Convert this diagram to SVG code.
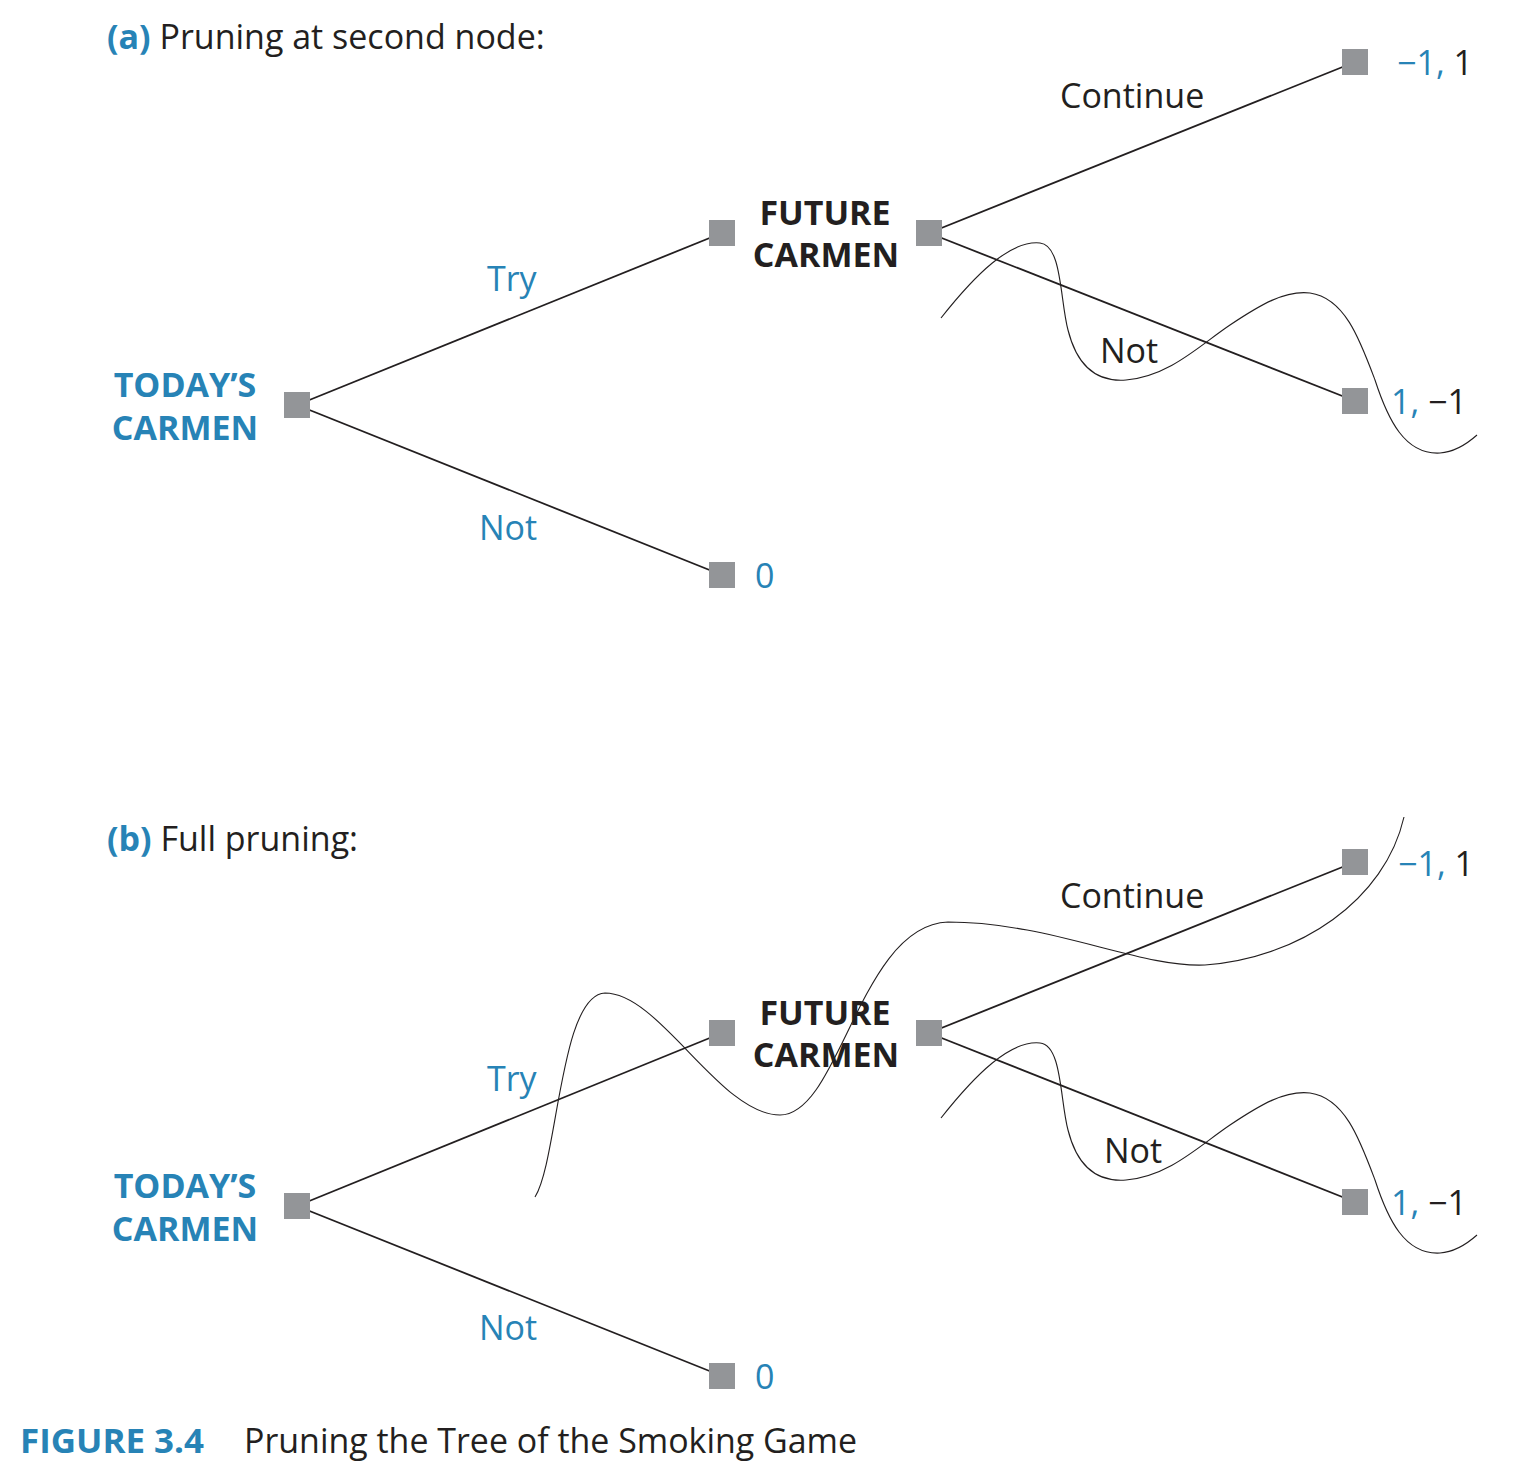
<svg xmlns="http://www.w3.org/2000/svg" width="1526" height="1470" viewBox="0 0 1526 1470">
<defs>
<style>
.t{font-family:"Open Sans","Liberation Sans",sans-serif;font-size:34px;fill:#231f20}
.b{font-weight:bold}
.blue{fill:#2783b6}
.nd{fill:#939598}
.edge{stroke:#231f20;stroke-width:1.8;fill:none}
.cut{stroke:#231f20;stroke-width:1.1;fill:none}
</style>
</defs>
<rect width="1526" height="1470" fill="#ffffff"/>

<!-- Part (a) -->
<text class="t" x="107" y="49"><tspan class="b blue">(a)</tspan> Pruning at second node:</text>
<g id="a-connectors">
<line class="edge" x1="297" y1="405" x2="722" y2="233"/>
<line class="edge" x1="297" y1="405" x2="722" y2="575"/>
<line class="edge" x1="929" y1="233" x2="1355" y2="62"/>
<line class="edge" x1="929" y1="233" x2="1355" y2="401"/>
<path class="cut" d="M941,318 C975,275 1010,240 1040,243 C1062,245 1060,300 1068,330 C1078,370 1100,382 1126,380 C1170,376 1200,345 1230,325 C1260,305 1285,290 1310,293 C1345,298 1360,340 1375,380 C1388,420 1405,455 1440,453 C1455,452 1468,443 1477,435"/>
<text class="t blue" x="487" y="291">Try</text>
<text class="t blue" x="479" y="540">Not</text>
<text class="t" x="1060" y="108">Continue</text>
<text class="t" x="1100" y="363">Not</text>
</g>
<g id="a-today">
<rect class="nd" x="284" y="392" width="26" height="26"/>
<text class="t b blue" x="185" y="397" text-anchor="middle">TODAY’S</text>
<text class="t b blue" x="185" y="440" text-anchor="middle">CARMEN</text>
</g>
<g id="a-future">
<rect class="nd" x="709" y="220" width="26" height="26"/>
<rect class="nd" x="916" y="220" width="26" height="26"/>
<text class="t b" x="825" y="225" text-anchor="middle">FUTURE</text>
<text class="t b" x="826" y="267" text-anchor="middle">CARMEN</text>
</g>
<g id="a-zero">
<rect class="nd" x="709" y="562" width="26" height="26"/>
<text class="t blue" x="755" y="588">0</text>
</g>
<g id="a-t1">
<rect class="nd" x="1342" y="49" width="26" height="26"/>
<text class="t" x="1397" y="75"><tspan class="blue">−1,</tspan> 1</text>
</g>
<g id="a-t2">
<rect class="nd" x="1342" y="388" width="26" height="26"/>
<text class="t" x="1391" y="414"><tspan class="blue">1,</tspan> −1</text>
</g>

<!-- Part (b) -->
<text class="t" x="107" y="851"><tspan class="b blue">(b)</tspan> Full pruning:</text>
<g id="b-connectors">
<line class="edge" x1="297" y1="1206" x2="722" y2="1033"/>
<line class="edge" x1="297" y1="1206" x2="722" y2="1376"/>
<line class="edge" x1="929" y1="1033" x2="1355" y2="862"/>
<line class="edge" x1="929" y1="1033" x2="1355" y2="1202"/>
<path class="cut" d="M941,1118 C975,1075 1010,1040 1040,1043 C1062,1045 1060,1100 1068,1130 C1078,1170 1100,1182 1126,1180 C1170,1176 1200,1145 1230,1125 C1260,1105 1285,1090 1310,1093 C1345,1098 1360,1140 1375,1180 C1388,1220 1405,1255 1440,1253 C1455,1252 1468,1243 1477,1235"/>
<path class="cut" d="M535,1197 C558,1160 560,995 605,993 C660,993 720,1115 780,1115 C840,1115 860,925 948,922 C1050,922 1140,968 1205,965 C1300,958 1385,900 1404,817"/>
<text class="t blue" x="487" y="1091">Try</text>
<text class="t blue" x="479" y="1340">Not</text>
<text class="t" x="1060" y="908">Continue</text>
<text class="t" x="1104" y="1163">Not</text>
</g>
<g id="b-today">
<rect class="nd" x="284" y="1193" width="26" height="26"/>
<text class="t b blue" x="185" y="1198" text-anchor="middle">TODAY’S</text>
<text class="t b blue" x="185" y="1241" text-anchor="middle">CARMEN</text>
</g>
<g id="b-future">
<rect class="nd" x="709" y="1020" width="26" height="26"/>
<rect class="nd" x="916" y="1020" width="26" height="26"/>
<text class="t b" x="825" y="1025" text-anchor="middle">FUTURE</text>
<text class="t b" x="826" y="1067" text-anchor="middle">CARMEN</text>
</g>
<g id="b-zero">
<rect class="nd" x="709" y="1363" width="26" height="26"/>
<text class="t blue" x="755" y="1389">0</text>
</g>
<g id="b-t1">
<rect class="nd" x="1342" y="849" width="26" height="26"/>
<text class="t" x="1398" y="876"><tspan class="blue">−1,</tspan> 1</text>
</g>
<g id="b-t2">
<rect class="nd" x="1342" y="1189" width="26" height="26"/>
<text class="t" x="1391" y="1215"><tspan class="blue">1,</tspan> −1</text>
</g>

<!-- Caption -->
<text class="t b blue" x="20" y="1453" textLength="184" lengthAdjust="spacingAndGlyphs">FIGURE 3.4</text>
<text class="t" x="244" y="1453" textLength="613" lengthAdjust="spacingAndGlyphs">Pruning the Tree of the Smoking Game</text>
</svg>
